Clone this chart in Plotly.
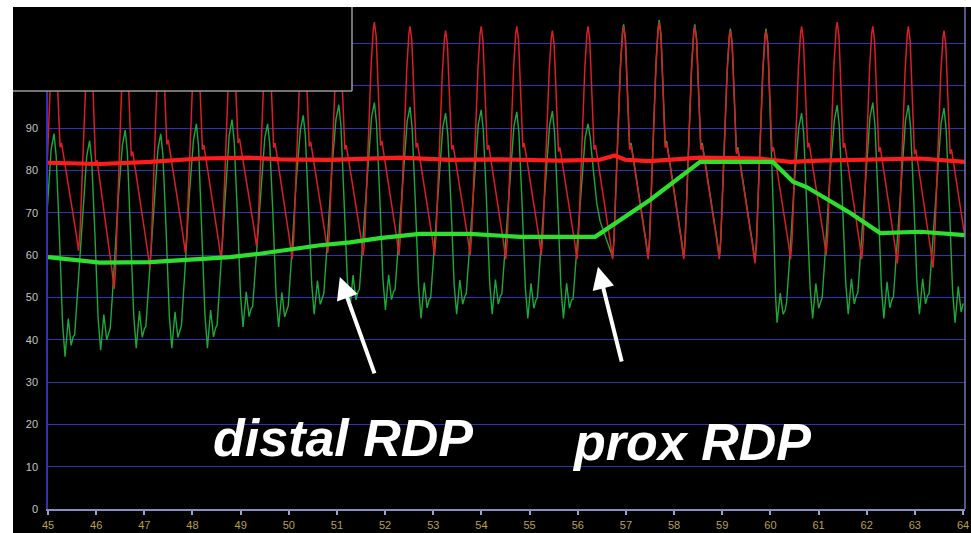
import plotly.graph_objects as go

# ---------------- data ----------------
# time (s) of each systolic peak
beat_peak_t = [45.125, 45.864, 46.603, 47.342, 48.081, 48.821, 49.560, 50.299, 51.038, 51.777,
               52.517, 53.256, 53.995, 54.734, 55.473, 56.213, 56.952, 57.691, 58.430, 59.169,
               59.909, 60.648, 61.387, 62.126, 62.865, 63.605]
# aortic (red) pressure: peak of each beat, trough before each beat (+ final trough)
red_peak = [113, 114, 113, 115, 114, 114, 115, 114, 113, 115, 114, 113, 114,
            114, 113, 114, 114, 115, 114, 113, 113, 114, 115, 114, 114, 113]
red_trough = [60, 61, 52, 57, 60.5, 59, 62, 59, 60.5, 60, 60, 60, 60, 59,
              60, 59, 59, 59, 59, 59, 58, 59, 60, 59, 58, 57, 58]
# distal (green) pressure: peak and lowest dip after each beat
green_peak = [88.7, 87, 89.5, 88.6, 91, 92, 91, 93, 95.5, 96, 95, 93.5, 94.3,
              93.8, 94, 91, 115, 116, 115, 114, 114, 93.5, 95.4, 96, 95.4, 94.7]
green_low = [36, 37.5, 38, 38, 38, 43, 43, 46, 47, 47, 45, 46, 46,
             45, 45, 61, 60, 60, 60, 60, 44, 45, 46, 45, 46, 44]
green_start_low = 36
# sensor position per beat: d = distal, p = proximal (pulled back), t1/t2 = transitions
beat_mode = ['d'] * 15 + ['t1'] + ['p'] * 4 + ['t2'] + ['d'] * 5
prox_offset = 0.5

# beat shapes (phase relative to peak, fraction of beat amplitude)
red_u = [-0.31, -0.27, -0.18, -0.09, -0.03, 0.0, 0.05, 0.11, 0.17, 0.21, 0.26, 0.45, 0.62]
red_f = [0.0, 0.08, 0.45, 0.82, 0.97, 1.0, 0.94, 0.68, 0.47, 0.49, 0.44, 0.27, 0.08]
green_rise_u = [-0.42, -0.32, -0.20, -0.08, 0.0]
green_rise_f = [0.10, 0.35, 0.68, 0.93, 1.0]
green_fall_u = [0.06, 0.15, 0.24, 0.31, 0.40, 0.48, 0.54]
green_fall_f = [0.90, 0.55, 0.15, 0.0, 0.17, 0.05, 0.09]
t1_after_u = [0.06, 0.15, 0.25, 0.34, 0.50, 0.62]
t1_after_v = [88, 80, 72, 68, 64, 61]
t2_after_u = [0.20, 0.27, 0.31, 0.40, 0.48, 0.54]
t2_after_v = [72, 50, 44, 51, 46, 47]

# mean pressure traces
red_mean_t = [45.0, 46.08, 47.12, 48.16, 49.19, 49.82, 50.86, 52.31, 53.35, 54.39, 55.63,
              56.46, 56.77, 56.98, 57.50, 58.54, 59.78, 60.41, 61.03, 62.28, 63.11, 64.04]
red_mean_v = [81.8, 81.5, 82.0, 82.8, 83.0, 82.6, 82.5, 83.0, 82.5, 82.6, 82.3,
              82.5, 83.5, 82.5, 82.2, 83.0, 82.8, 82.0, 82.3, 82.5, 82.8, 82.0]
green_mean_t = [45.0, 45.46, 46.08, 47.12, 48.16, 48.78, 49.40, 50.03, 50.65, 51.27, 51.89,
                52.72, 53.76, 54.80, 55.63, 56.36, 57.50, 58.54, 60.05, 60.47, 60.76,
                61.65, 62.28, 63.11, 64.04]
green_mean_v = [59.5, 59.0, 58.2, 58.3, 59.0, 59.5, 60.3, 61.3, 62.3, 63.0, 64.0,
                65.0, 65.0, 64.3, 64.3, 64.3, 73.0, 82.0, 82.0, 77.3, 76.0,
                70.0, 65.2, 65.5, 64.7]

x_ticks = list(range(45, 65))
y_ticks = list(range(0, 120, 10))
y_ticktext = [str(v) if v <= 90 else '' for v in y_ticks]

# ---------------- build traces ----------------
def interval(k):
    if k < len(beat_peak_t) - 1:
        return beat_peak_t[k + 1] - beat_peak_t[k]
    return beat_peak_t[k] - beat_peak_t[k - 1]


def red_val(k, u, f):
    base = red_trough[k] if u <= 0 else red_trough[k + 1]
    return base + f * (red_peak[k] - base)


red_x, red_y = [], []
for k, tp in enumerate(beat_peak_t):
    P = interval(k)
    for u, f in zip(red_u, red_f):
        red_x.append(tp + u * P)
        red_y.append(red_val(k, u, f))

green_x, green_y = [], []
prev_low = green_start_low
for k, tp in enumerate(beat_peak_t):
    P = interval(k)
    mode = beat_mode[k]
    if mode == 'p':
        for u, f in zip(red_u, red_f):
            green_x.append(tp + u * P)
            green_y.append(red_val(k, u, f) + prox_offset)
    elif mode == 't2':
        for u, f in zip(red_u, red_f):
            if u <= 0.11:
                green_x.append(tp + u * P)
                green_y.append(red_val(k, u, f) + prox_offset)
        for u, v in zip(t2_after_u, t2_after_v):
            green_x.append(tp + u * P)
            green_y.append(v)
        prev_low = green_low[k]
    else:
        for u, f in zip(green_rise_u, green_rise_f):
            green_x.append(tp + u * P)
            green_y.append(prev_low + f * (green_peak[k] - prev_low))
        if mode == 't1':
            for u, v in zip(t1_after_u, t1_after_v):
                green_x.append(tp + u * P)
                green_y.append(v)
        else:
            for u, f in zip(green_fall_u, green_fall_f):
                green_x.append(tp + u * P)
                green_y.append(green_low[k] + f * (green_peak[k] - green_low[k]))
        prev_low = green_low[k]

fig = go.Figure()
fig.add_trace(go.Scatter(x=green_x, y=green_y, mode='lines',
                         line=dict(color='#1ea83a', width=1.4), hoverinfo='skip'))
fig.add_trace(go.Scatter(x=red_x, y=red_y, mode='lines',
                         line=dict(color='#d81e26', width=1.5), hoverinfo='skip'))
fig.add_trace(go.Scatter(x=red_mean_t, y=red_mean_v, mode='lines',
                         line=dict(color='#ff1c1c', width=4.2), hoverinfo='skip'))
fig.add_trace(go.Scatter(x=green_mean_t, y=green_mean_v, mode='lines',
                         line=dict(color='#2ee02e', width=4.2), hoverinfo='skip'))

# ---------------- layout ----------------
L, R, T, B = 48, 6, 7, 24
W, H = 971, 533
pw, ph = W - L - R, H - T - B


def px_x(p):
    return (p - L) / pw


def px_y(p):
    return (H - B - p) / ph


shapes = [
    # white page border (left and top)
    dict(type='rect', xref='paper', yref='paper', x0=px_x(0), x1=px_x(13), y0=px_y(H), y1=px_y(0),
         fillcolor='white', line=dict(width=0), layer='above'),
    dict(type='rect', xref='paper', yref='paper', x0=px_x(0), x1=px_x(W), y0=px_y(7), y1=px_y(0),
         fillcolor='white', line=dict(width=0), layer='above'),
    # black box at top-left
    dict(type='rect', xref='paper', yref='paper', x0=px_x(13), x1=px_x(352), y0=px_y(91), y1=px_y(7),
         fillcolor='black', line=dict(width=0), layer='above'),
    dict(type='line', xref='paper', yref='paper', x0=px_x(13), x1=px_x(352), y0=px_y(91), y1=px_y(91),
         line=dict(color='#9a9a9a', width=1.5), layer='above'),
    dict(type='line', xref='paper', yref='paper', x0=px_x(352), x1=px_x(352), y0=px_y(91), y1=px_y(7),
         line=dict(color='#9a9a9a', width=1.5), layer='above'),
    # right frame line
    dict(type='line', xref='paper', yref='paper', x0=1, x1=1, y0=0, y1=1,
         line=dict(color='#7474b0', width=1.5), layer='above'),
]

label_font = dict(family='Liberation Sans', size=52, color='white')
annotations = [
    dict(x=51.12, y=16.7, xref='x', yref='y', text='<b><i>distal RDP</i></b>',
         showarrow=False, font=label_font, xanchor='center', yanchor='middle'),
    dict(x=58.37, y=15.9, xref='x', yref='y', text='<b><i>prox RDP</i></b>',
         showarrow=False, font=label_font, xanchor='center', yanchor='middle'),
    dict(x=51.06, y=54.8, ax=51.79, ay=31.7, xref='x', yref='y', axref='x', ayref='y',
         text='', showarrow=True, arrowhead=2, arrowsize=1.1, arrowwidth=4, arrowcolor='white'),
    dict(x=56.42, y=57.2, ax=56.92, ay=34.5, xref='x', yref='y', axref='x', ayref='y',
         text='', showarrow=True, arrowhead=2, arrowsize=1.1, arrowwidth=4, arrowcolor='white'),
]

fig.update_layout(
    width=W, height=H, autosize=False,
    margin=dict(l=L, r=R, t=T, b=B, pad=0, autoexpand=False),
    paper_bgcolor='black', plot_bgcolor='black',
    showlegend=False, hovermode=False,
    shapes=shapes, annotations=annotations,
    xaxis=dict(range=[45, 45 + pw / 48.16], tickvals=x_ticks, ticktext=[str(v) for v in x_ticks],
               automargin=False,
               showgrid=False, zeroline=False, showline=True, linecolor='#8c8cc8', linewidth=2,
               ticks='outside', ticklen=4, tickwidth=1.5, tickcolor='#a0a0c8',
               ticklabelstandoff=1,
               tickfont=dict(family='Liberation Sans', size=11, color='#bca040')),
    yaxis=dict(range=[0, ph / 4.233], tickvals=y_ticks, ticktext=y_ticktext,
               automargin=False,
               showgrid=True, gridcolor='#3232b4', gridwidth=1.2, zeroline=False,
               showline=True, linecolor='#3232b4', linewidth=1.5, ticks='',
               ticklabelstandoff=6,
               tickfont=dict(family='Liberation Sans', size=11, color='#c4c4c4')),
)

fig.write_html('out.html')
